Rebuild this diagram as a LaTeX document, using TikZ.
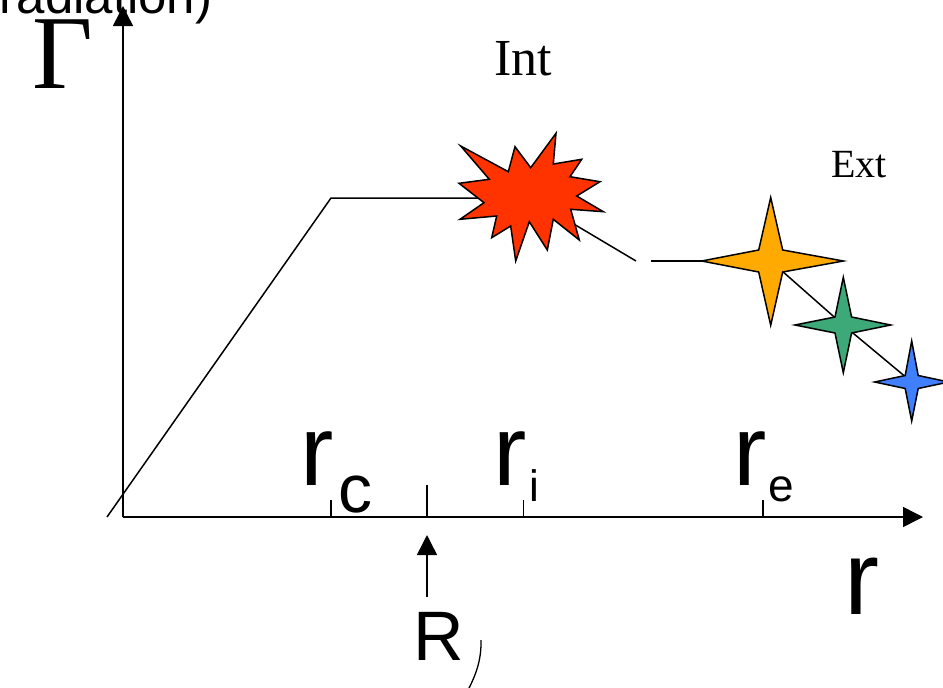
\documentclass[tikz,border=0pt]{standalone}
\usepackage{fontspec}
\setmainfont{Liberation Serif}
\setsansfont{Liberation Sans}
\usetikzlibrary{arrows.meta,calc}
\definecolor{burstred}{RGB}{255,51,0}
\definecolor{starorange}{RGB}{255,170,0}
\definecolor{stargreen}{RGB}{61,168,120}
\definecolor{starblue}{RGB}{64,128,255}
\begin{document}
\begin{tikzpicture}[x=1pt,y=-1pt,
  ln/.style={line width=1.5pt, draw=black},
  axisarrow/.style={ln, -{Triangle[length=20pt,width=20pt]}},
  shapeline/.style={line width=1.5pt, draw=black, line join=miter},
  sflab/.style={inner sep=0pt, anchor=base west},
  rmlab/.style={inner sep=0pt, anchor=base west}]
\useasboundingbox (0,0) rectangle (943,688);

% coordinates
\coordinate (O) at (123,517);
\coordinate (ytip) at (123,6);
\coordinate (xtip) at (923,517);
\coordinate (c0) at (107,517);
\coordinate (c1) at (331,198);
\coordinate (burst) at (530,198);
\coordinate (g1) at (636,261);
\coordinate (g2) at (651,261);
\coordinate (orange) at (770.7,261);
\coordinate (green) at (843.3,325);
\coordinate (blue) at (911.7,382);
\coordinate (tc) at (331,517);
\coordinate (tR) at (427,517);
\coordinate (ti) at (523.5,517);
\coordinate (te) at (763,517);
\coordinate (Rtail) at (427,597);
\coordinate (Rtip) at (427,535);

% axes
\draw[axisarrow] (O) -- (ytip);
\draw[axisarrow] (O) -- (xtip);

% ticks
\draw[ln] (tc) -- ++(0,-17);
\draw[ln] (ti) -- ++(0,-17);
\draw[ln] (te) -- ++(0,-17);
\draw[ln] (tR) -- ++(0,-32);
\draw[axisarrow] (Rtail) -- (Rtip);

% curve
\draw[ln] (c0) -- (c1) -- (burst);
\draw[ln] (burst) -- (g1);
\draw[ln] (g2) -- (orange);
\draw[ln] (orange) -- (green) -- (blue);

% starburst
\draw[shapeline, fill=burstred]
 (460.7,146) -- (508.3,171.7) -- (515,146.7) -- (530.7,167.7) -- (556,133.3)
 -- (553.3,164) -- (581.7,159.3) -- (570,176.7) -- (600,181.7) -- (576.7,196)
 -- (603.3,211.7) -- (570.7,209.3) -- (579.3,240) -- (553.3,219.3) -- (547.3,250)
 -- (529.3,221.7) -- (515.7,261) -- (510.7,226) -- (491.7,237.7) -- (496.7,216)
 -- (460,219.3) -- (484,202.7) -- (459,183.3) -- (489.3,179.3) -- cycle;

% four-pointed stars
\begin{scope}[shift={(orange)}]
\draw[shapeline, fill=starorange] (-69,0) -- (-12,-11) -- (0,-63.5) -- (12,-11) -- (72.7,0)
  -- (12,11) -- (0,64.3) -- (-12,11) -- cycle;
\end{scope}
\begin{scope}[shift={(green)}]
\draw[shapeline, fill=stargreen] (-48.3,0) -- (-8.3,-8) -- (0,-47.7) -- (8.3,-8) -- (47.4,0)
  -- (8.3,8) -- (0,47.7) -- (-8.3,8) -- cycle;
\end{scope}
\begin{scope}[shift={(blue)}]
\draw[shapeline, fill=starblue] (-37,0) -- (-6.5,-6.5) -- (0,-41) -- (6.5,-6.5) -- (37,0)
  -- (6.5,6.5) -- (0,39) -- (-6.5,6.5) -- cycle;
\end{scope}

% labels
\node[sflab, font=\sffamily\fontsize{100}{100}\selectfont] (rc) at (300,485) {r};
\node[sflab, font=\sffamily\fontsize{68}{68}\selectfont] (rcsub) at (338,512.5) {c};
\node[sflab, font=\sffamily\fontsize{100}{100}\selectfont] (ri) at (493.4,485) {r};
\node[sflab, font=\sffamily\fontsize{44}{44}\selectfont] (risub) at (528.8,501.7) {i};
\node[sflab, font=\sffamily\fontsize{100}{100}\selectfont] (re) at (733,485) {r};
\node[sflab, font=\sffamily\fontsize{46}{46}\selectfont] (resub) at (768,501) {e};
\node[sflab, font=\sffamily\fontsize{105}{105}\selectfont] (rbig) at (844.7,614) {r};
\node[sflab, font=\sffamily\fontsize{70}{70}\selectfont] (RJ) at (413.5,660) {R};
\draw[line width=1.3pt] (481,640) .. controls (481.5,660) and (476,675) .. (467,692);
\node[rmlab, font=\rmfamily\fontsize{105}{105}\selectfont] (Gamma) at (32,88) {Γ};
\node[rmlab, font=\rmfamily\fontsize{52}{52}\selectfont] (Int) at (494,75) {Int};
\node[rmlab, font=\rmfamily\fontsize{40}{40}\selectfont] (Ext) at (831,177) {Ext};
\node[inner sep=0pt, anchor=base east, font=\sffamily\fontsize{51}{51}\selectfont] (rad) at (212.5,13.5) {radiation)};
\end{tikzpicture}
\end{document}
